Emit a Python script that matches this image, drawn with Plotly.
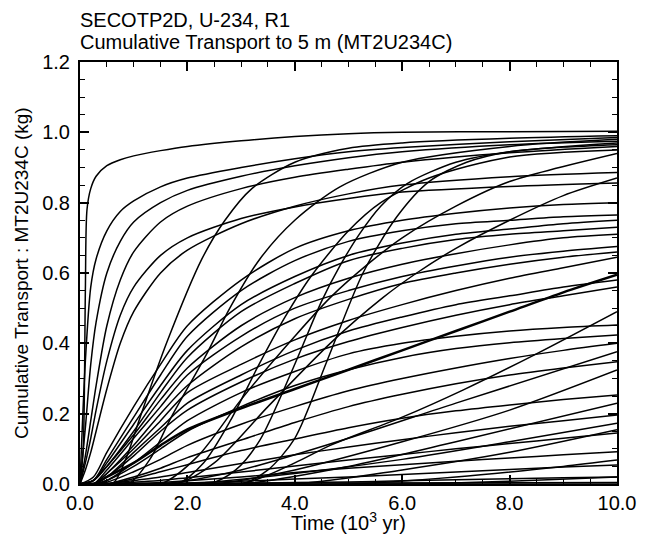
import plotly.graph_objects as go

# ---------------- data ----------------
title_line1 = "SECOTP2D, U-234, R1"
title_line2 = "Cumulative Transport to 5 m (MT2U234C)"
x_title = "Time (10<sup>3</sup> yr)"
y_title = "Cumulative Transport : MT2U234C (kg)"

x_tick_vals = [0, 2, 4, 6, 8, 10]
x_tick_text = ["0.0", "2.0", "4.0", "6.0", "8.0", "10.0"]
y_tick_vals = [0.0, 0.2, 0.4, 0.6, 0.8, 1.0, 1.2]
y_tick_text = ["0.0", "0.2", "0.4", "0.6", "0.8", "1.0", "1.2"]

# fast, early rising curves (common time grid)
t_fast = [0, 0.1, 0.2, 0.3, 0.5, 0.75, 1, 1.5, 2, 3, 4, 5, 6, 8, 10]
f2 = [0, 0.35, 0.56, 0.64, 0.72, 0.775, 0.805, 0.845, 0.87, 0.9, 0.925, 0.945, 0.957, 0.973, 0.985]
f3 = [0, 0.16, 0.34, 0.46, 0.6, 0.69, 0.745, 0.8, 0.835, 0.875, 0.905, 0.928, 0.945, 0.965, 0.975]
f4 = [0, 0.08, 0.18, 0.28, 0.45, 0.58, 0.66, 0.745, 0.79, 0.84, 0.872, 0.895, 0.915, 0.942, 0.96]
f5 = [0, 0.06, 0.13, 0.21, 0.35, 0.48, 0.56, 0.65, 0.7, 0.755, 0.788, 0.812, 0.83, 0.846, 0.856]
f6 = [0, 0.04, 0.09, 0.15, 0.27, 0.4, 0.49, 0.6, 0.665, 0.74, 0.79, 0.825, 0.85, 0.874, 0.886]

# top curve (own time list)
f1_t = [0, 0.06, 0.1, 0.13, 0.2, 0.3, 0.5, 0.75, 1, 1.5, 2, 3, 4, 5, 6, 8, 10]
f1_v = [0, 0.1, 0.55, 0.78, 0.84, 0.875, 0.905, 0.922, 0.933, 0.948, 0.96, 0.976, 0.988, 0.996, 1.0, 1.002, 1.003]

# delayed steep (S-shaped) curves
s1_t = [0, 0.6, 0.85, 1.12, 1.61, 2.27, 2.7, 3.2, 4, 5, 6, 8, 10]
s1_v = [0, 0, 0.07, 0.19, 0.40, 0.64, 0.75, 0.84, 0.915, 0.955, 0.97, 0.983, 0.99]
s2_t = [0, 0.9, 1.3, 1.7, 2.36, 2.79, 3.35, 4, 4.84, 6, 8, 10]
s2_v = [0, 0, 0.07, 0.19, 0.37, 0.5, 0.64, 0.75, 0.845, 0.915, 0.96, 0.98]
s3_t = [0, 2.4, 2.9, 3.35, 3.97, 4.5, 4.84, 5.2, 5.6, 6.1, 7, 8, 10]
s3_v = [0, 0, 0.04, 0.125, 0.33, 0.52, 0.62, 0.71, 0.79, 0.855, 0.915, 0.945, 0.97]
s4_t = [0, 3.0, 3.5, 4.0, 4.6, 5.27, 5.9, 6.5, 7.2, 8, 9, 10]
s4_v = [0, 0, 0.04, 0.13, 0.35, 0.6, 0.76, 0.86, 0.915, 0.945, 0.958, 0.965]
s5_t = [0, 1.8, 2.3, 2.8, 3.3, 3.8, 4.3, 5, 5.6, 6.5, 8, 10]
s5_v = [0, 0, 0.06, 0.18, 0.33, 0.47, 0.59, 0.72, 0.8, 0.87, 0.93, 0.95]
g2_t = [0, 1.8, 2.5, 3.5, 4.66, 5.64, 6.27, 7, 8, 9, 10]
g2_v = [0, 0, 0.06, 0.22, 0.40, 0.53, 0.6, 0.67, 0.75, 0.82, 0.87]
g3_t = [0, 1.5, 2.2, 3, 4, 4.66, 5.4, 6, 7, 8, 10]
g3_v = [0, 0, 0.08, 0.24, 0.42, 0.53, 0.63, 0.7, 0.79, 0.86, 0.94]

# concave / slow curves from the origin (common time grid)
t_grid = [0, 0.25, 0.5, 1, 1.5, 2, 3, 4, 5, 6, 7, 8, 9, 10]
d1 = [0, 0.02, 0.09, 0.22, 0.34, 0.45, 0.58, 0.67, 0.72, 0.75, 0.77, 0.785, 0.795, 0.80]
d2 = [0, 0.01, 0.07, 0.19, 0.31, 0.42, 0.55, 0.635, 0.69, 0.72, 0.74, 0.75, 0.76, 0.765]
d3 = [0, 0.01, 0.06, 0.17, 0.28, 0.38, 0.51, 0.59, 0.65, 0.685, 0.71, 0.725, 0.74, 0.75]
d4 = [0, 0.01, 0.05, 0.15, 0.26, 0.36, 0.49, 0.57, 0.635, 0.67, 0.695, 0.71, 0.72, 0.73]
d5 = [0, 0.01, 0.05, 0.14, 0.24, 0.33, 0.45, 0.53, 0.585, 0.625, 0.655, 0.68, 0.70, 0.71]
d6 = [0, 0, 0.04, 0.13, 0.22, 0.31, 0.42, 0.5, 0.55, 0.59, 0.62, 0.645, 0.662, 0.675]
d7 = [0, 0, 0.03, 0.11, 0.2, 0.28, 0.39, 0.47, 0.525, 0.57, 0.6, 0.625, 0.645, 0.66]
d8 = [0, 0, 0.03, 0.1, 0.18, 0.26, 0.34, 0.41, 0.465, 0.51, 0.55, 0.585, 0.615, 0.645]
d9 = [0, 0, 0.02, 0.09, 0.16, 0.23, 0.31, 0.38, 0.435, 0.475, 0.51, 0.535, 0.56, 0.58]
d10 = [0, 0, 0.02, 0.08, 0.15, 0.21, 0.29, 0.355, 0.405, 0.445, 0.48, 0.51, 0.535, 0.56]
e_thick = [0, 0, 0.02, 0.06, 0.11, 0.155, 0.215, 0.27, 0.325, 0.38, 0.435, 0.49, 0.545, 0.595]
e1 = [0, 0, 0.01, 0.06, 0.12, 0.18, 0.26, 0.32, 0.37, 0.4, 0.42, 0.435, 0.445, 0.452]
e2 = [0, 0, 0.01, 0.05, 0.1, 0.15, 0.22, 0.28, 0.325, 0.36, 0.385, 0.402, 0.414, 0.424]
e3 = [0, 0, 0.005, 0.035, 0.07, 0.11, 0.17, 0.22, 0.265, 0.3, 0.33, 0.357, 0.38, 0.40]
e4 = [0, 0, 0, 0.02, 0.045, 0.075, 0.125, 0.175, 0.22, 0.255, 0.285, 0.31, 0.33, 0.348]
e5 = [0, 0, 0, 0.015, 0.035, 0.055, 0.095, 0.128, 0.16, 0.187, 0.208, 0.225, 0.24, 0.253]
e6 = [0, 0, 0, 0.01, 0.02, 0.033, 0.058, 0.083, 0.105, 0.126, 0.146, 0.164, 0.18, 0.196]
e7 = [0, 0, 0, 0.005, 0.01, 0.018, 0.034, 0.051, 0.068, 0.084, 0.1, 0.115, 0.13, 0.145]
e8 = [0, 0, 0, 0, 0.004, 0.009, 0.02, 0.033, 0.045, 0.055, 0.065, 0.074, 0.083, 0.092]
e9 = [0, 0, 0, 0, 0, 0.003, 0.008, 0.014, 0.02, 0.027, 0.034, 0.041, 0.048, 0.054]
e10 = [0, 0, 0, 0, 0, 0, 0.002, 0.004, 0.006, 0.009, 0.012, 0.015, 0.018, 0.02]

# late-starting slow curves
g1_t = [0, 3, 4, 4.66, 6, 7.13, 8.5, 10]
g1_v = [0, 0, 0.06, 0.11, 0.19, 0.267, 0.37, 0.49]
g4_t = [0, 1.5, 3, 5, 7, 10]
g4_v = [0, 0, 0.04, 0.13, 0.23, 0.376]
g5_t = [0, 2.5, 4, 6, 8, 10]
g5_v = [0, 0, 0.04, 0.12, 0.21, 0.324]
g6_t = [0, 3, 5, 7, 10]
g6_v = [0, 0, 0.05, 0.12, 0.23]
g7_t = [0, 2, 4, 6, 8, 10]
g7_v = [0, 0, 0.03, 0.07, 0.12, 0.173]
g8_t = [0, 4, 6, 8, 10]
g8_v = [0, 0, 0.04, 0.09, 0.154]
g9_t = [0, 5, 7, 9, 10]
g9_v = [0, 0, 0.02, 0.05, 0.068]
g10_t = [0, 6, 8, 10]
g10_v = [0, 0, 0.008, 0.02]
z_t = [0, 10]
z1_v = [0, 0]
z2_v = [0.002, 0.004]

# ---------------- figure ----------------
LW = 1.5
series = [(f1_t, f1_v, LW)]
for v in (f2, f3, f4, f5, f6):
    series.append((t_fast, v, LW))
for tt, vv in ((s1_t, s1_v), (s2_t, s2_v), (s3_t, s3_v), (s4_t, s4_v), (s5_t, s5_v),
               (g2_t, g2_v), (g3_t, g3_v)):
    series.append((tt, vv, LW))
for v in (d1, d2, d3, d4, d5, d6, d7, d8, d9, d10):
    series.append((t_grid, v, LW))
series.append((t_grid, e_thick, 2.5))
for v in (e1, e2, e3, e4, e5, e6, e7, e8, e9, e10):
    series.append((t_grid, v, LW))
for tt, vv in ((g1_t, g1_v), (g4_t, g4_v), (g5_t, g5_v), (g6_t, g6_v), (g7_t, g7_v),
               (g8_t, g8_v), (g9_t, g9_v), (g10_t, g10_v), (z_t, z1_v), (z_t, z2_v)):
    series.append((tt, vv, LW))

fig = go.Figure()
for tt, vv, w in series:
    fig.add_trace(go.Scatter(x=tt, y=vv, mode="lines",
                             line=dict(color="black", width=w, shape="spline", smoothing=0.8),
                             hoverinfo="skip", showlegend=False))

FONT = "Liberation Sans, Arial, Helvetica, sans-serif"
FS = 20
fig.update_layout(
    width=645, height=540,
    margin=dict(l=72, r=36, t=54, b=64, autoexpand=False),
    paper_bgcolor="white", plot_bgcolor="white",
    font=dict(family=FONT, size=FS, color="black"),
    showlegend=False,
)
axis_common = dict(showline=True, linewidth=2, linecolor="black", mirror="ticks",
                   ticks="inside", ticklen=9, tickwidth=1.5, tickcolor="black",
                   showgrid=False, zeroline=False, automargin=False,
                   tickfont=dict(family=FONT, size=FS, color="black"))
fig.update_xaxes(range=[0, 10], tickmode="array", tickvals=x_tick_vals, ticktext=x_tick_text,
                 minor=dict(tickmode="linear", tick0=0, dtick=0.5, ticks="inside",
                            ticklen=5, tickwidth=1, tickcolor="black"),
                 **axis_common)
fig.update_yaxes(range=[0, 1.2], tickmode="array", tickvals=y_tick_vals, ticktext=y_tick_text,
                 ticklabelstandoff=4,
                 minor=dict(tickmode="linear", tick0=0, dtick=0.05, ticks="inside",
                            ticklen=5, tickwidth=1, tickcolor="black"),
                 **axis_common)

fig.add_annotation(text=title_line1, xref="paper", yref="paper", x=-0.004, y=1.0995,
                   xanchor="left", yanchor="middle", showarrow=False,
                   font=dict(family=FONT, size=FS, color="black"))
fig.add_annotation(text=title_line2, xref="paper", yref="paper", x=-0.004, y=1.047,
                   xanchor="left", yanchor="middle", showarrow=False,
                   font=dict(family=FONT, size=FS, color="black"))
fig.add_annotation(text=x_title, xref="paper", yref="paper", x=0.5, y=-0.09,
                   xanchor="center", yanchor="middle", showarrow=False,
                   font=dict(family=FONT, size=FS, color="black"))
fig.add_annotation(text=y_title, xref="paper", yref="paper", x=-0.11, y=0.5,
                   xanchor="center", yanchor="middle", textangle=-90, showarrow=False,
                   font=dict(family=FONT, size=19, color="black"))

fig.write_html("out.html")
